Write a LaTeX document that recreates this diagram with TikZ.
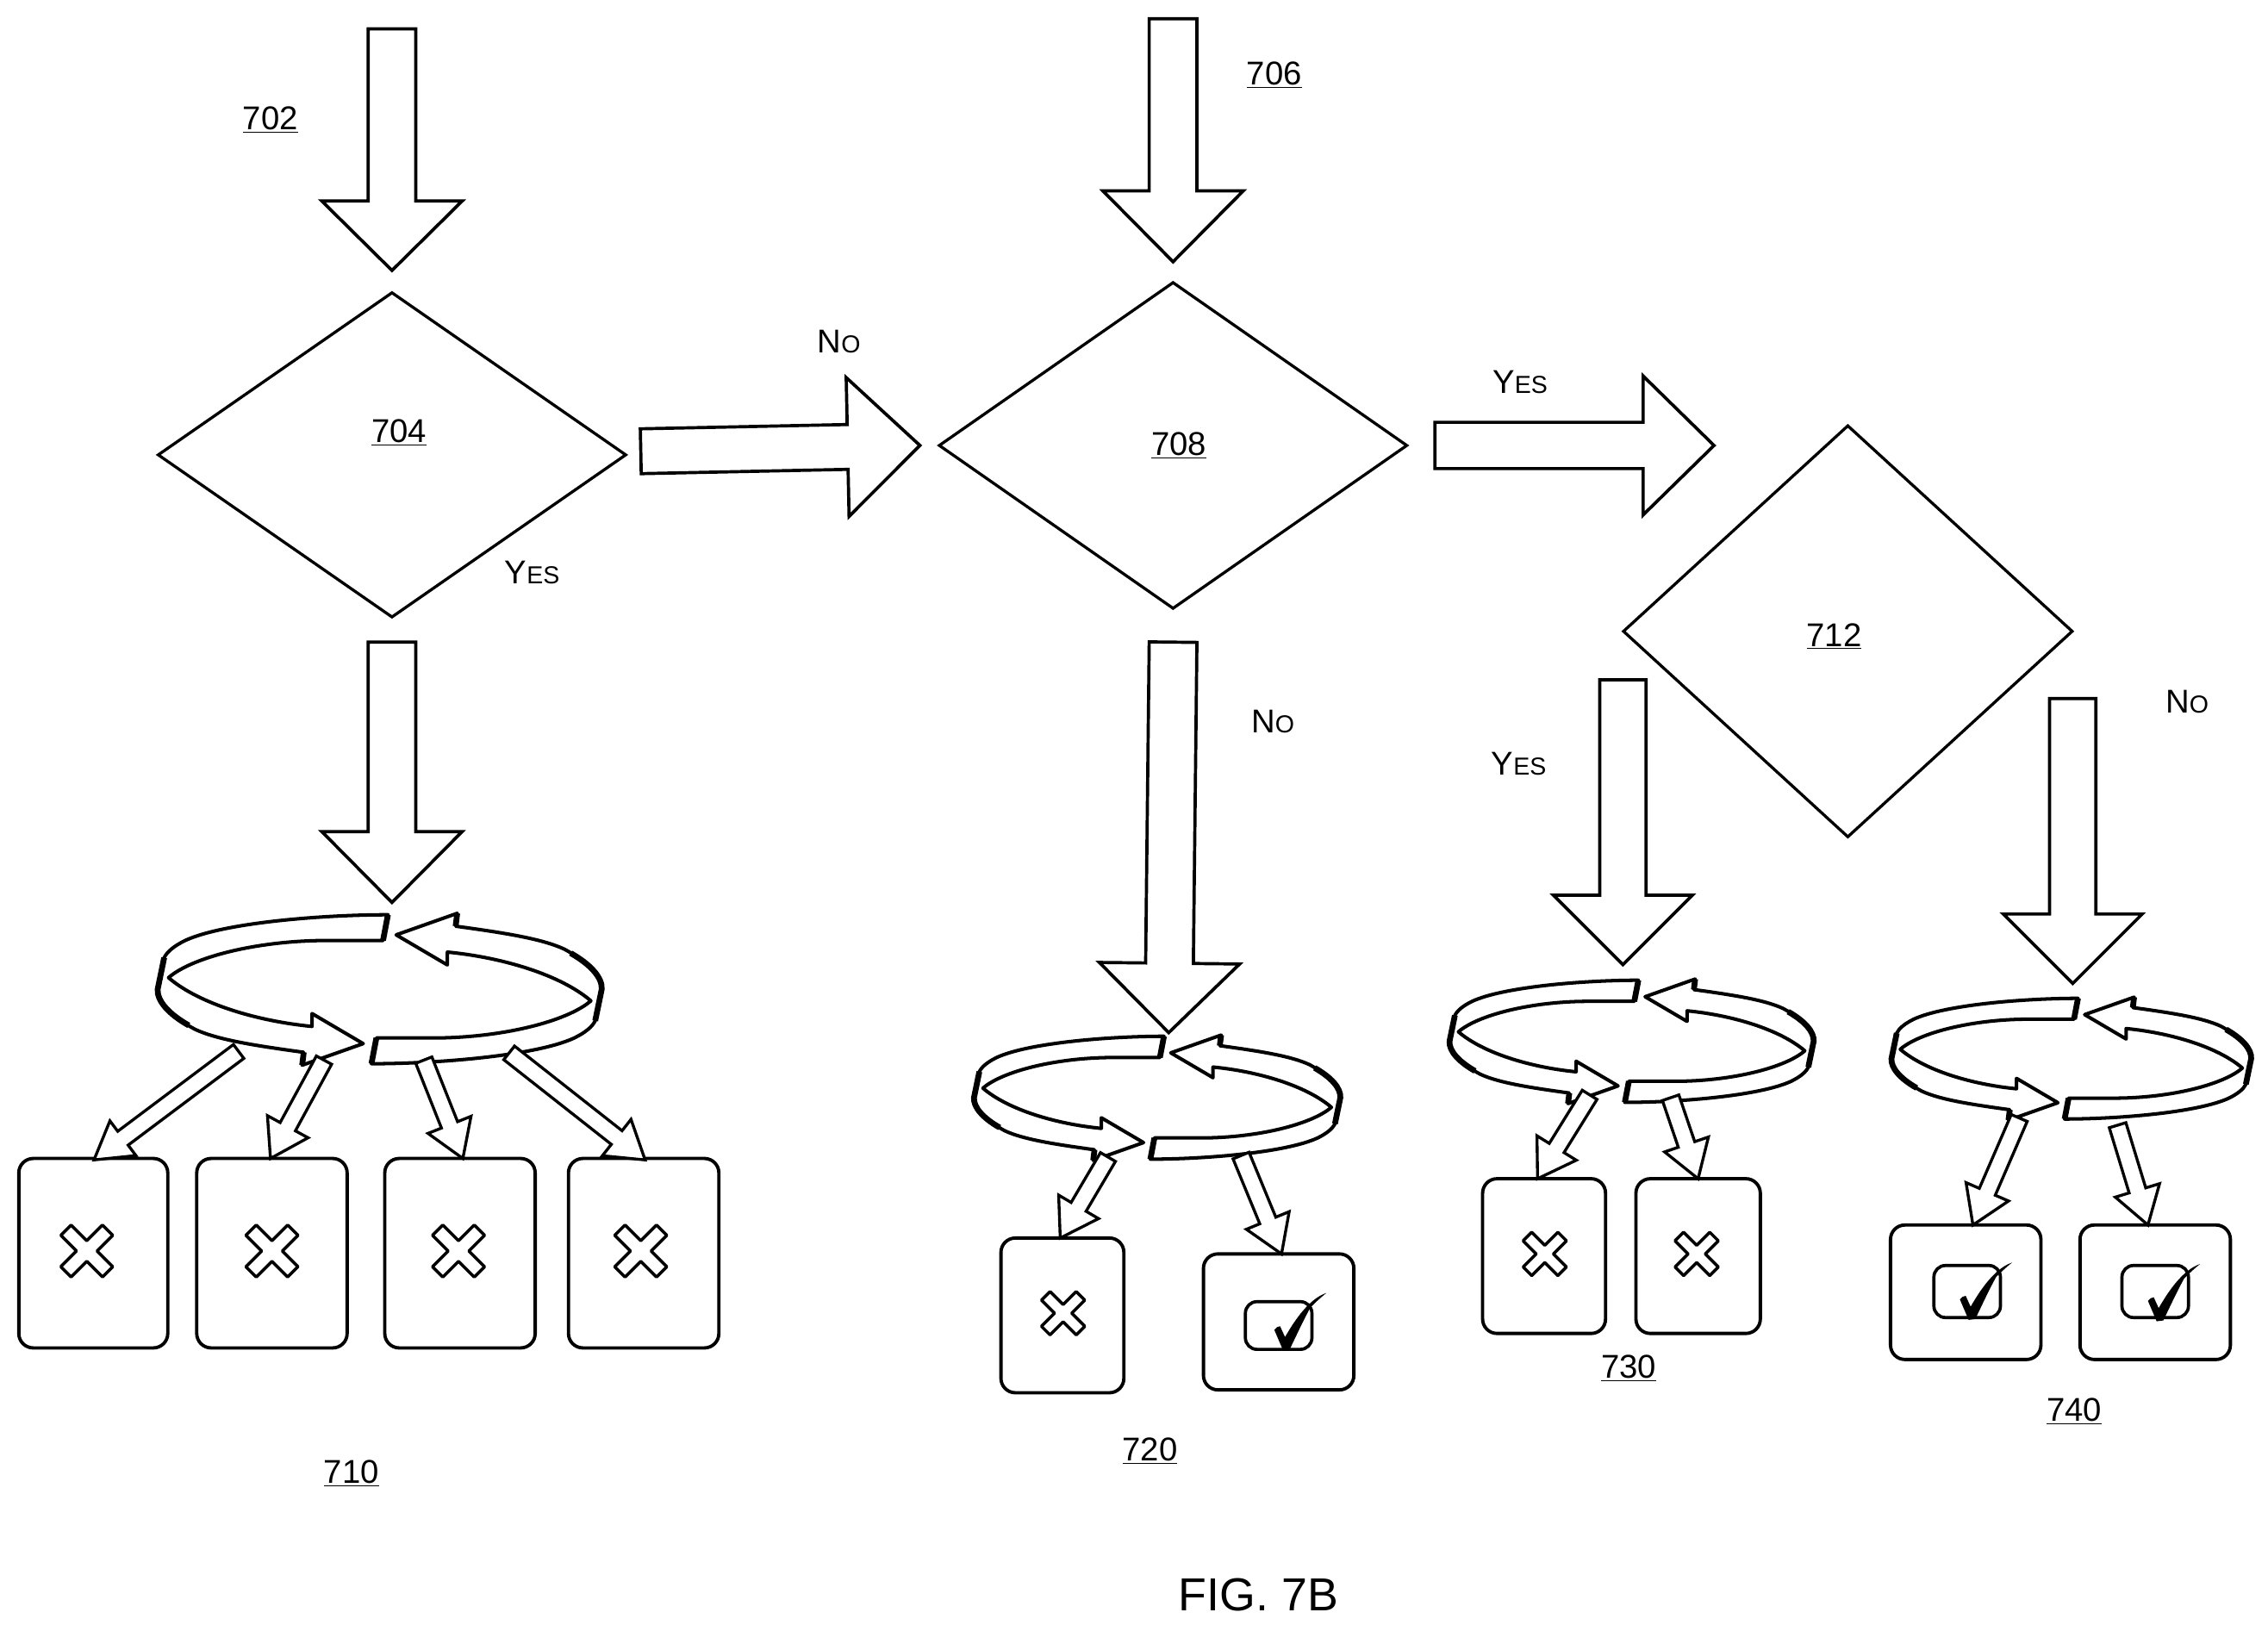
\documentclass[tikz,border=0pt]{standalone}
\usepackage{fontspec}
\setmainfont{Liberation Sans}
\usetikzlibrary{calc,shapes.geometric}
\newcommand{\uu}[1]{\underline{#1}}
\newcommand{\yes}{Y{\fontsize{17}{20}\selectfont ES}}
\newcommand{\no}{N{\fontsize{17}{20}\selectfont O}}
\tikzset{
  blockarrow/.style={draw=black,fill=white,line width=2.2pt,line join=miter,miter limit=3},
  smallarrow/.style={draw=black,fill=white,line width=2pt,line join=miter,miter limit=3},
  decision/.style={draw=black,fill=white,diamond,line width=2pt,inner sep=0pt,aspect=1},
  card/.style={draw=black,fill=white,rectangle,rounded corners=10pt,line width=2.3pt,inner sep=0pt},
  lbl/.style={inner sep=0pt,font=\fontsize{22.8}{26}\selectfont},
  ringpart/.style={draw=black,fill=white,line width=2.4pt,line join=round},
  ringthick/.style={draw=black,line width=4pt,line cap=butt},
  xmark/.style={draw=black,fill=white,line width=2.1pt,line join=round},
  tickbox/.style={draw=black,fill=white,rectangle,rounded corners=8pt,line width=2.2pt,inner sep=0pt},
}
% start, end, half shaft, half head, head length
\newcommand{\barrow}[6][blockarrow]{%
  \path ($(#3)!#6!(#2)$) coordinate (hb);
  \draw[#1] ($(#2)!#4!90:(#3)$) -- ($(hb)!#4!90:(#3)$) -- ($(hb)!#5!90:(#3)$) -- (#3)
     -- ($(hb)!#5!-90:(#3)$) -- ($(hb)!#4!-90:(#3)$) -- ($(#2)!#4!-90:(#3)$) -- cycle;
}
\newcommand{\ringhalf}{%
  \draw[ringpart] (5.7,-51.5)
    .. controls (-40,-51.5) and (-108,-46) .. (-134.5,-33.7)
    .. controls (-142,-30) and (-147,-26) .. (-149,-21.8)
    -- (-154,0)
    .. controls (-155,8) and (-142,20) .. (-127.7,27.7)
    .. controls (-112,35) and (-86,39) .. (-52.5,43.6)
    -- (-53.6,52.5) -- (-11.4,37.6) -- (-46.8,16.8) -- (-46.8,25.7)
    .. controls (-85,22) and (-125,10) .. (-146,-8)
    .. controls (-130,-22) and (-85,-33.7) .. (-36.5,-33.7)
    -- (2.3,-33.7) -- cycle;
  \draw[ringthick] (5.7,-51.5) -- (2.3,-33.7);
  \draw[ringthick] (-149,-21.8) -- (-153.5,0) .. controls (-154,8) and (-146,17) .. (-132,25);
  \draw[ringthick] (-52.5,43.6) -- (-53.6,52.5);
}
\newcommand{\ringarrow}[3]{%
  \begin{scope}[shift={(#1,#2)},scale=#3]
    \ringhalf
    \begin{scope}[rotate=180]\ringhalf\end{scope}
  \end{scope}
}
\newcommand{\xicon}[3]{%
  \begin{scope}[shift={(#1,#2)},scale=#3,rotate=45]
    \draw[xmark] (-4.2,-17) -- (4.2,-17) -- (4.2,-4.2) -- (17,-4.2) -- (17,4.2) -- (4.2,4.2)
      -- (4.2,17) -- (-4.2,17) -- (-4.2,4.2) -- (-17,4.2) -- (-17,-4.2) -- (-4.2,-4.2) -- cycle;
  \end{scope}
}
\newcommand{\tick}[2]{%
  \fill[black,shift={(#1,#2)}] (-6,-13.5) .. controls (-5,-15) and (-3.5,-16) .. (-2,-16)
    -- (1.4,-8.5) .. controls (8,-20) and (18,-35) .. (30,-39)
    .. controls (25,-35) and (21,-31) .. (19,-29)
    .. controls (14,-20) and (9,-9) .. (4.6,0) -- (0,0.6) -- cycle;
}
\begin{document}
\begin{tikzpicture}[x=1pt,y=-1pt]
\useasboundingbox (0,0) rectangle (1568,1127.2);

% decisions
\node[decision,minimum width=324pt,minimum height=225pt] (d704) at (271,314.5) {};
\node[decision,minimum width=324pt,minimum height=226pt] (d708) at (811,308) {};
\node[decision,minimum width=311pt,minimum height=285pt] (d712) at (1277.5,436.5) {};

% block arrows
\coordinate (s702) at (271,20);   \coordinate (e702) at (271,187);
\coordinate (s706) at (811,13);   \coordinate (e706) at (811,181);
\coordinate (sNo1) at (443,312);  \coordinate (eNo1) at (636,308);
\coordinate (sYes2) at (992,308); \coordinate (eYes2) at (1185,308);
\coordinate (sYes1) at (271,444); \coordinate (eYes1) at (271,624);
\coordinate (sNo2) at (811,444);  \coordinate (eNo2) at (808,714);
\coordinate (sYes3) at (1122,470);\coordinate (eYes3) at (1122,667);
\coordinate (sNo3) at (1433,483); \coordinate (eNo3) at (1433,680);
\barrow{s702}{e702}{16.5pt}{48.5pt}{48pt}
\barrow{s706}{e706}{16.5pt}{48.5pt}{49pt}
\barrow{sNo1}{eNo1}{15.5pt}{48pt}{50pt}
\barrow{sYes2}{eYes2}{16pt}{48pt}{49pt}
\barrow{sYes1}{eYes1}{16.5pt}{48.5pt}{49pt}
\barrow{sNo2}{eNo2}{16.5pt}{48.5pt}{48pt}
\barrow{sYes3}{eYes3}{16pt}{48pt}{48pt}
\barrow{sNo3}{eNo3}{16pt}{48pt}{48pt}

% rings
\ringarrow{262.5}{684}{1}
\ringarrow{800}{759}{0.825}
\ringarrow{1128}{720}{0.82}
\ringarrow{1432}{732}{0.81}

% cards
\node[card,minimum width=103pt,minimum height=131pt] (c1) at (64.5,866.5) {};
\node[card,minimum width=104pt,minimum height=131pt] (c2) at (188,866.5) {};
\node[card,minimum width=104pt,minimum height=131pt] (c3) at (318,866.5) {};
\node[card,minimum width=104pt,minimum height=131pt] (c4) at (445,866.5) {};
\node[card,minimum width=85pt,minimum height=107pt] (c5) at (734.5,909.5) {};
\node[card,minimum width=104pt,minimum height=94pt] (c6) at (884,914) {};
\node[card,minimum width=85pt,minimum height=107pt] (c7) at (1067.5,868.5) {};
\node[card,minimum width=86pt,minimum height=107pt] (c8) at (1174,868.5) {};
\node[card,minimum width=104pt,minimum height=93pt] (c9) at (1359,893.5) {};
\node[card,minimum width=104pt,minimum height=93pt] (c10) at (1490,893.5) {};

% small arrows from rings to cards
\coordinate (r1a) at (165,727);  \coordinate (t1a) at (65,802);
\coordinate (r1b) at (224,733);  \coordinate (t1b) at (187,801);
\coordinate (r1c) at (293,733);  \coordinate (t1c) at (320,801);
\coordinate (r1d) at (352,728);  \coordinate (t1d) at (446,802);
\coordinate (r2a) at (766,800);  \coordinate (t2a) at (733,856);
\coordinate (r2b) at (858,799);  \coordinate (t2b) at (886,867);
\coordinate (r3a) at (1099,757); \coordinate (t3a) at (1063,815);
\coordinate (r3b) at (1155,759); \coordinate (t3b) at (1174,815);
\coordinate (r4a) at (1396,773); \coordinate (t4a) at (1364,847);
\coordinate (r4b) at (1464,778); \coordinate (t4b) at (1485,847);
\barrow[smallarrow]{r1a}{t1a}{6pt}{15pt}{25pt}
\barrow[smallarrow]{r1b}{t1b}{6pt}{16pt}{25pt}
\barrow[smallarrow]{r1c}{t1c}{6pt}{16pt}{25pt}
\barrow[smallarrow]{r1d}{t1d}{6pt}{16pt}{25pt}
\barrow[smallarrow]{r2a}{t2a}{6pt}{16pt}{25pt}
\barrow[smallarrow]{r2b}{t2b}{6pt}{16pt}{25pt}
\barrow[smallarrow]{r3a}{t3a}{6pt}{16pt}{25pt}
\barrow[smallarrow]{r3b}{t3b}{6pt}{16pt}{25pt}
\barrow[smallarrow]{r4a}{t4a}{6pt}{16pt}{25pt}
\barrow[smallarrow]{r4b}{t4b}{6pt}{16pt}{25pt}

% icons
\xicon{60}{865}{1.2}
\xicon{188}{865}{1.2}
\xicon{317}{865}{1.2}
\xicon{443}{865}{1.2}
\xicon{735}{908}{1}
\xicon{1068}{867}{1}
\xicon{1173}{867}{1}
\node[tickbox,minimum width=46pt,minimum height=33pt] (b6) at (884,916.5) {};
\node[tickbox,minimum width=46pt,minimum height=36pt] (b9) at (1360,893) {};
\node[tickbox,minimum width=46pt,minimum height=36pt] (b10) at (1490,893) {};
\tick{887}{933}
\tick{1361}{912}
\tick{1491}{913}

% labels
\node[lbl] (l702) at (187,83) {\uu{702}};
\node[lbl] (l706) at (881,52) {\uu{706}};
\node[lbl] (l704) at (276,299) {\uu{704}};
\node[lbl] (l708) at (815,308) {\uu{708}};
\node[lbl] (l712) at (1268,440) {\uu{712}};
\node[lbl] (l710) at (243,1019) {\uu{710}};
\node[lbl] (l720) at (795,1003) {\uu{720}};
\node[lbl] (l730) at (1126,946) {\uu{730}};
\node[lbl] (l740) at (1434,976) {\uu{740}};
\node[lbl] (n1) at (580,236) {\no};
\node[lbl] (y1) at (368,396) {\yes};
\node[lbl] (y2) at (1051,264) {\yes};
\node[lbl] (n2) at (880,499) {\no};
\node[lbl] (y3) at (1050,528) {\yes};
\node[lbl] (n3) at (1512,485) {\no};
\node[inner sep=0pt,font=\fontsize{32}{36}\selectfont] (fig) at (870,1103) {FIG. 7B};
\end{tikzpicture}
\end{document}
